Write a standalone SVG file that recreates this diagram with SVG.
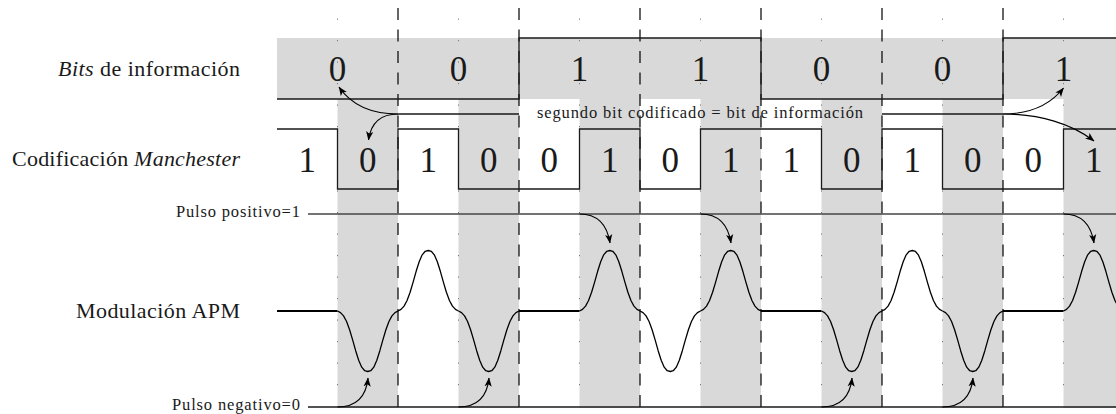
<svg xmlns="http://www.w3.org/2000/svg" width="1116" height="414" viewBox="0 0 1116 414">
<defs>
<style>
.bg{fill:#d9d9d9}
.dash{stroke:#000;stroke-width:1.2;stroke-dasharray:12 9.5;fill:none}
.dot{stroke:#7a7a7a;stroke-width:1;stroke-dasharray:1.2 20.3;fill:none}
.sig{stroke:#1a1a1a;stroke-width:1.3;fill:none}
.flat{stroke:#000;stroke-width:2.2;fill:none}
.pulse{stroke:#000;stroke-width:1.3;fill:none;stroke-linejoin:round}
text{font-family:'Liberation Serif','DejaVu Serif',serif;fill:#1a1a1a}
.lab{font-size:22px}
.dig{font-size:35px;text-anchor:middle}
.sm{font-size:16.5px}
.arr{stroke:#000;stroke-width:1.2;fill:none;marker-end:url(#ah)}
.ref{stroke:#444;stroke-width:1.3;fill:none}
</style>
<marker id="ah" viewBox="0 0 10 10" refX="9.5" refY="5" markerWidth="9" markerHeight="9" markerUnits="userSpaceOnUse" orient="auto"><path d="M0,1 L10,5 L0,9 L2.5,5 Z" fill="#000"/></marker>
<path id="pulse" d="M0,0 L3.03,-1.64 L6.05,-4.92 L9.08,-10.53 L12.1,-18.7 L15.13,-28.89 L18.15,-39.69 L21.18,-49.3 L24.2,-56.17 L27.23,-59.71 L30.25,-60.5 L33.28,-59.71 L36.3,-56.17 L39.33,-49.3 L42.35,-39.69 L45.38,-28.89 L48.4,-18.7 L51.43,-10.53 L54.45,-4.92 L57.48,-1.64 L60.5,0"/>
</defs>

<g id="background">
<rect class="bg" x="277" y="38" width="839" height="61"/>
<rect class="bg" x="337.5" y="99" width="60.5" height="309"/>
<rect class="bg" x="458.5" y="99" width="60.5" height="309"/>
<rect class="bg" x="579.5" y="99" width="60.5" height="309"/>
<rect class="bg" x="700.5" y="99" width="60.5" height="309"/>
<rect class="bg" x="821.5" y="99" width="60.5" height="309"/>
<rect class="bg" x="942.5" y="99" width="60.5" height="309"/>
<rect class="bg" x="1063.5" y="99" width="52.5" height="309"/>
</g>

<g id="grid">
<path class="dot" d="M337.5,18.5 V405 M458.5,18.5 V405 M579.5,18.5 V405 M700.5,18.5 V405 M821.5,18.5 V405 M942.5,18.5 V405 M1063.5,18.5 V405"/>
<path class="dash" d="M398,8 V408 M519,8 V408 M640,8 V408 M761,8 V408 M882,8 V408 M1003,8 V408"/>
</g>

<g id="row-bits">
<text class="lab" x="240" y="76" text-anchor="end" textLength="182"><tspan font-style="italic">Bits</tspan> de información</text>
<path class="sig" d="M277,99 H519 V38 H761 V99 H1003 V38 H1116"/>
<text class="dig" x="337.5" y="81">0</text>
<text class="dig" x="458.5" y="81">0</text>
<text class="dig" x="579.5" y="81">1</text>
<text class="dig" x="700.5" y="81">1</text>
<text class="dig" x="821.5" y="81">0</text>
<text class="dig" x="942.5" y="81">0</text>
<text class="dig" x="1063.5" y="81">1</text>
</g>

<g id="annotation">
<text class="sm" x="700" y="118" text-anchor="middle" textLength="326">segundo bit codificado = bit de información</text>
</g>

<g id="row-manchester">
<text class="lab" x="240" y="166" text-anchor="end" textLength="228">Codificación <tspan font-style="italic">Manchester</tspan></text>
<path class="sig" d="M277,129 H337.5 V189 H398 V129 H458.5 V189 H579.5 V129 H640 V189 H700.5 V129 H821.5 V189 H882 V129 H942.5 V189 H1063.5 V129 H1116"/>
<text class="dig" x="307.25" y="172">1</text>
<text class="dig" x="367.75" y="172">0</text>
<text class="dig" x="428.25" y="172">1</text>
<text class="dig" x="488.75" y="172">0</text>
<text class="dig" x="549.25" y="172">0</text>
<text class="dig" x="609.75" y="172">1</text>
<text class="dig" x="670.25" y="172">0</text>
<text class="dig" x="730.75" y="172">1</text>
<text class="dig" x="791.25" y="172">1</text>
<text class="dig" x="851.75" y="172">0</text>
<text class="dig" x="912.25" y="172">1</text>
<text class="dig" x="972.75" y="172">0</text>
<text class="dig" x="1033.25" y="172">0</text>
<text class="dig" x="1093.75" y="172">1</text>
</g>

<g id="label-pos">
<text class="sm" x="300" y="217" text-anchor="end" textLength="124">Pulso positivo=1</text>
<path class="ref" d="M308,214 H1116"/>
</g>

<g id="label-neg">
<text class="sm" x="300" y="410" text-anchor="end" textLength="128">Pulso negativo=0</text>
<path class="ref" style="stroke:#1a1a1a" d="M308,407 H1116"/>
</g>

<g id="row-apm">
<text class="lab" x="240" y="318" text-anchor="end" textLength="164">Modulación APM</text>
<path class="flat" d="M277,311 H337.5 M519,311 H579.5 M761,311 H821.5 M1003,311 H1063.5"/>
<use href="#pulse" class="pulse" transform="translate(337.5,311) scale(1,-1)"/>
<use href="#pulse" class="pulse" transform="translate(398,311)"/>
<use href="#pulse" class="pulse" transform="translate(458.5,311) scale(1,-1)"/>
<use href="#pulse" class="pulse" transform="translate(579.5,311)"/>
<use href="#pulse" class="pulse" transform="translate(640,311) scale(1,-1)"/>
<use href="#pulse" class="pulse" transform="translate(700.5,311)"/>
<use href="#pulse" class="pulse" transform="translate(821.5,311) scale(1,-1)"/>
<use href="#pulse" class="pulse" transform="translate(882,311)"/>
<use href="#pulse" class="pulse" transform="translate(942.5,311) scale(1,-1)"/>
<use href="#pulse" class="pulse" transform="translate(1063.5,311)"/>
</g>

<g id="connectors">
<path class="sig" d="M398,114 H519 M882,114 H1003"/>
<path class="arr" d="M398,114 C372,114 352,106 339,87"/>
<path class="arr" d="M398,114 C382,114 371,122 368.5,140"/>
<path class="arr" d="M1003,114 C1030,114 1050,105 1063.5,88"/>
<path class="arr" d="M1003,114 C1040,114 1072,124 1094,141"/>
<path class="arr" d="M579.5,214 C597,214 607,224 610,243"/>
<path class="arr" d="M700.5,214 C718,214 728,224 731,243"/>
<path class="arr" d="M1063.5,214 C1081,214 1091,224 1094,243"/>
<path class="arr" d="M337.5,407 C355,407 366,398 368,378"/>
<path class="arr" d="M458.5,407 C476,407 487,398 489,378"/>
<path class="arr" d="M821.5,407 C839,407 850,398 852,378"/>
<path class="arr" d="M942.5,407 C960,407 971,398 973,378"/>
</g>
</svg>
